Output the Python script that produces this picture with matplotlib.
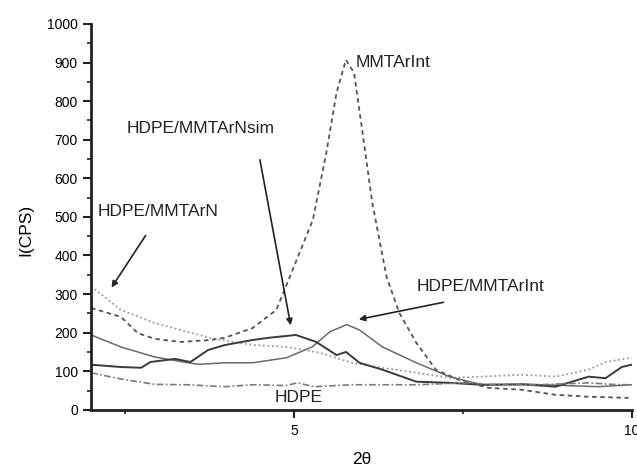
import numpy as np
import matplotlib
matplotlib.use('Agg')
import matplotlib.pyplot as plt
from matplotlib.ticker import MultipleLocator

plt.rcParams['font.family'] = ['Liberation Sans', 'DejaVu Sans']

# curves (2theta, counts)
hdpe_x = [2.0, 2.44, 2.94, 3.43, 3.98, 4.39, 4.89, 5.05, 5.3, 5.86, 6.31, 6.81, 7.55, 7.9, 8.62, 9.36, 9.7, 9.95]
hdpe_y = [96, 80, 66, 65, 60, 65, 63, 70, 60, 65, 65, 65, 70, 66, 65, 70, 66, 65]

nsim_x = [2.0, 2.44, 2.74, 2.88, 3.24, 3.47, 3.73, 3.98, 4.39, 4.64, 5.03, 5.33, 5.63, 5.77, 5.97, 6.31, 6.81, 7.3, 7.78, 8.4, 8.87, 9.36, 9.61, 9.85, 10.0]
nsim_y = [117, 111, 109, 124, 132, 124, 155, 168, 181, 187, 194, 176, 142, 150, 122, 104, 73, 70, 65, 66, 60, 86, 82, 111, 117]

arint_x = [2.0, 2.44, 2.94, 3.43, 3.6, 3.98, 4.39, 4.89, 5.27, 5.53, 5.78, 5.97, 6.31, 6.81, 7.3, 7.78, 8.5, 9.0, 9.5, 10.0]
arint_y = [194, 163, 137, 122, 118, 122, 122, 135, 163, 202, 221, 207, 163, 122, 86, 65, 66, 63, 60, 65]

mmt_x = [2.0, 2.44, 2.69, 2.94, 3.33, 3.77, 3.98, 4.39, 4.74, 4.94, 5.28, 5.48, 5.63, 5.77, 5.89, 6.01, 6.16, 6.37, 6.56, 6.81, 7.1, 7.44, 7.88, 8.37, 8.87, 9.36, 9.95]
mmt_y = [264, 241, 199, 184, 176, 181, 187, 212, 259, 345, 492, 666, 821, 907, 873, 725, 536, 345, 251, 174, 104, 78, 57, 52, 39, 34, 31]

arn_x = [2.0, 2.44, 2.94, 3.43, 3.77, 4.39, 4.89, 5.38, 5.86, 6.31, 6.81, 7.3, 7.78, 8.37, 8.87, 9.36, 9.61, 10.0]
arn_y = [320, 259, 225, 202, 186, 168, 163, 148, 122, 109, 96, 83, 86, 91, 86, 104, 124, 135]

fig = plt.figure(figsize=(6.37, 4.70), dpi=100)
ax = fig.add_axes([0.143, 0.128, 0.849, 0.821])

ax.plot(arn_x, arn_y, color='#9a9a9a', lw=1.3, ls=(0, (1, 1.5)))
ax.plot(mmt_x, mmt_y, color='#555555', lw=1.3, ls=(0, (2.5, 2)))
ax.plot(arint_x, arint_y, color='#6a6a6a', lw=1.1)
ax.plot(nsim_x, nsim_y, color='#3a3a3a', lw=1.4)
ax.plot(hdpe_x, hdpe_y, color='#7a7a7a', lw=1.2, ls=(0, (4, 1.5, 1, 1.5)))

ax.set_xlim(2, 10)
ax.set_ylim(0, 1000)
ax.xaxis.set_major_locator(MultipleLocator(5))
ax.xaxis.set_minor_locator(MultipleLocator(2.5))
ax.yaxis.set_major_locator(MultipleLocator(100))
ax.yaxis.set_minor_locator(MultipleLocator(50))

for s in ['top', 'right']:
    ax.spines[s].set_visible(False)
for s in ['left', 'bottom']:
    ax.spines[s].set_linewidth(2)
    ax.spines[s].set_color('#222222')

ax.tick_params(which='major', length=6, width=1.5, labelsize=10, color='#222222')
ax.tick_params(which='minor', length=3, width=1.2, color='#222222')
ax.tick_params(axis='x', pad=4)

ax.set_ylabel('I(CPS)', fontsize=12.5)
ax.yaxis.set_label_coords(-0.107, 0.466)
ax.set_xlabel('2θ', fontsize=12.5)
ax.xaxis.set_label_coords(0.5, -0.108)

txt = dict(fontsize=12.5, color='#222222', va='center')
ax.text(5.92, 901, 'MMTArInt', **txt)
ax.text(2.52, 728, 'HDPE/MMTArNsim', **txt)
ax.text(2.09, 513, 'HDPE/MMTArN', **txt)
ax.text(6.81, 319, 'HDPE/MMTArInt', **txt)
ax.text(4.71, 31, 'HDPE', **txt)

arr = dict(arrowstyle='-|>', color='#222222', lw=1.2, mutation_scale=9)
ax.annotate('', xy=(4.96, 212), xytext=(4.49, 655), arrowprops=arr)
ax.annotate('', xy=(2.28, 311), xytext=(2.83, 458), arrowprops=arr)
ax.annotate('', xy=(5.92, 233), xytext=(7.25, 280), arrowprops=arr)

fig.savefig('out.png', dpi=100)
